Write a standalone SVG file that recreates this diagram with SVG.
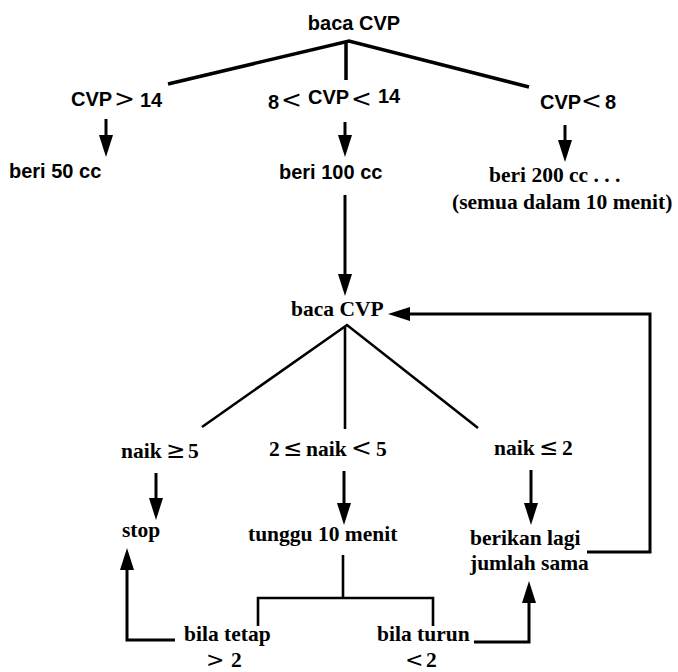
<svg xmlns="http://www.w3.org/2000/svg" width="678" height="672" viewBox="0 0 678 672">
<defs>
<style>
.sans{font-family:"Liberation Sans",Arial,sans-serif;font-weight:bold;font-size:20px;fill:#000}
.serif{font-family:"Liberation Serif","Times New Roman",serif;font-weight:bold;font-size:21.5px;fill:#000}
.sym{font-family:"DejaVu Sans",sans-serif;font-weight:normal;font-size:25px}
.sym2{font-family:"DejaVu Sans",sans-serif;font-weight:normal;font-size:22px}
.rel{font-family:"DejaVu Sans",sans-serif;font-weight:normal;font-size:23px}
.ln{fill:none;stroke:#000;stroke-width:3;stroke-linejoin:miter}
.thick{stroke-width:3.5}
.thin{stroke-width:2.6}
</style>
<marker id="ah" viewBox="0 0 22 14" refX="10" refY="7" markerWidth="22" markerHeight="14" markerUnits="userSpaceOnUse" orient="auto">
<path d="M0,0 L22,7 L0,14 z" fill="#000"/>
</marker>
</defs>
<rect width="678" height="672" fill="#fff"/>

<g id="connectors">
<path class="ln thick" d="M168,84 L349,41 L529,87"/>
<path class="ln thick" d="M346,42 L346,80"/>
<path class="ln" d="M106,119 L106,145" marker-end="url(#ah)"/>
<path class="ln" d="M345,122 L345,145" marker-end="url(#ah)"/>
<path class="ln" d="M565,125 L565,150" marker-end="url(#ah)"/>
<path class="ln" d="M345,195 L345,284" marker-end="url(#ah)"/>
<path class="ln thin" d="M202,427 L347,325 L478,428"/>
<path class="ln thin" d="M345,326 L345,429"/>
<path class="ln" d="M156,473 L156,508" marker-end="url(#ah)"/>
<path class="ln" d="M344,471 L344,513" marker-end="url(#ah)"/>
<path class="ln" d="M531,470 L531,513" marker-end="url(#ah)"/>
<path class="ln thin" d="M343,555 L343,598 M258,626 L258,598 L433,598 L433,626"/>
<path class="ln" d="M175,640 L127,640 L127,560" marker-end="url(#ah)"/>
<path class="ln" d="M474,642 L529,642 L529,593" marker-end="url(#ah)"/>
<path class="ln" d="M587,552 L650,552 L650,314 L400,314" marker-end="url(#ah)"/>
</g>

<g id="n-baca1"><text class="sans" x="354" y="30" text-anchor="middle">baca CVP</text></g>
<g id="n-cvp-gt14"><text class="sans" y="106"><tspan x="71">CVP</tspan><tspan class="sym" x="114" y="107">&gt;</tspan><tspan x="140" y="107">14</tspan></text></g>
<g id="n-cvp-mid"><text class="sans" y="109"><tspan x="268">8</tspan><tspan class="sym" x="281" y="108">&lt;</tspan><tspan x="308" y="104">CVP</tspan><tspan class="sym" x="351" y="107">&lt;</tspan><tspan x="378" y="103">14</tspan></text></g>
<g id="n-cvp-lt8"><text class="sans" y="109"><tspan x="540">CVP</tspan><tspan class="sym" x="581">&lt;</tspan><tspan x="605">8</tspan></text></g>
<g id="n-beri50"><text class="sans" x="9" y="178">beri 50 cc</text></g>
<g id="n-beri100"><text class="sans" x="279" y="179">beri 100 cc</text></g>
<g id="n-beri200"><text class="serif" x="489" y="182" font-size="22">beri 200 cc . . .</text><text class="serif" x="452" y="209">(semua dalam 10 menit)</text></g>
<g id="n-baca2"><text class="serif" x="291" y="316" font-size="21">baca CVP</text></g>
<g id="n-naik-ge5"><text class="serif" y="458"><tspan x="121">naik</tspan><tspan class="rel" x="166">≥</tspan><tspan x="188">5</tspan></text></g>
<g id="n-naik-mid"><text class="serif" y="456"><tspan x="269">2</tspan><tspan class="rel" x="283">≤</tspan><tspan x="306">naik</tspan><tspan class="sym" x="351">&lt;</tspan><tspan x="376">5</tspan></text></g>
<g id="n-naik-le2"><text class="serif" y="455"><tspan x="494">naik</tspan><tspan class="rel" x="539">≤</tspan><tspan x="562">2</tspan></text></g>
<g id="n-stop"><text class="serif" x="122" y="537">stop</text></g>
<g id="n-tunggu"><text class="serif" x="248" y="541">tunggu 10 menit</text></g>
<g id="n-berikan"><text class="serif" x="470" y="545">berikan lagi</text><text class="serif" x="470" y="570">jumlah sama</text></g>
<g id="n-tetap"><text class="serif" x="184" y="641">bila tetap</text><text class="serif" y="667"><tspan class="sym2" x="206">&gt;</tspan><tspan x="231">2</tspan></text></g>
<g id="n-turun"><text class="serif" x="377" y="641">bila turun</text><text class="serif" y="667"><tspan class="sym2" x="405">&lt;</tspan><tspan x="426">2</tspan></text></g>
</svg>
